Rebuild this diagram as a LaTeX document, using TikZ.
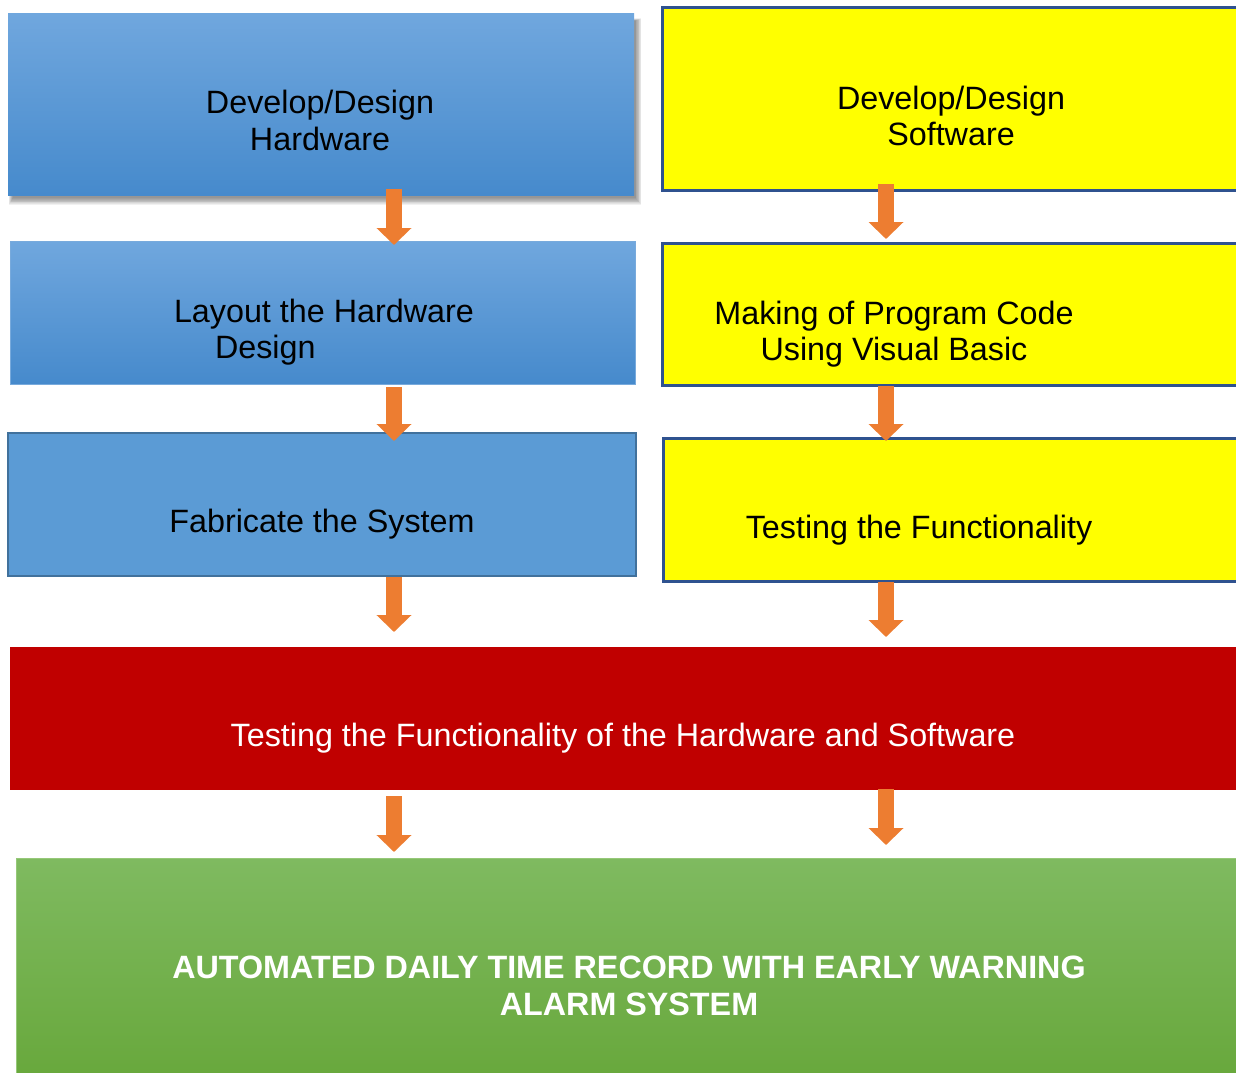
\documentclass[tikz,border=0pt]{standalone}
\usepackage{fontspec}
\setmainfont{Liberation Sans}
\usetikzlibrary{arrows.meta}
\definecolor{bluetop}{RGB}{112,167,222}
\definecolor{bluebot}{RGB}{70,138,204}
\definecolor{bluesolid}{RGB}{91,155,213}
\definecolor{blueedge}{RGB}{65,113,156}
\definecolor{bluelight}{RGB}{120,170,220}
\definecolor{yel}{RGB}{255,255,0}
\definecolor{yeledge}{RGB}{47,82,143}
\definecolor{redfill}{RGB}{192,0,0}
\definecolor{greentop}{RGB}{127,186,96}
\definecolor{greenbot}{RGB}{104,168,60}
\definecolor{greenedge}{RGB}{150,200,120}
\definecolor{arrowc}{RGB}{237,125,49}
\begin{document}
\begin{tikzpicture}[x=1pt,y=-1pt,
  every node/.style={inner sep=0pt, outer sep=0pt},
  box/.style={anchor=north west, rectangle},
  bluegrad/.style={box, top color=bluetop, bottom color=bluebot},
  bluesol/.style={box, fill=bluesolid, draw=blueedge, line width=1.5pt},
  yelbox/.style={box, fill=yel, draw=yeledge, line width=3pt},
  redbox/.style={box, fill=redfill},
  greenbox/.style={box, top color=greentop, bottom color=greenbot, draw=greenedge, line width=1pt},
  txt/.style={font=\fontsize{32.3}{36.5}\selectfont, align=center, text=black},
  wtxt/.style={txt, text=white},
  bigarrow/.style={arrowc, line width=16.5pt, -{Triangle[width=34pt,length=17pt]}}
]
\useasboundingbox (0,0) rectangle (1236,1072);
\clip (0,0) rectangle (1236,1072);
\fill[white] (0,0) rectangle (1236,1072);
% soft shadow for first box
\foreach \k in {1,...,9}{
  \fill[black, opacity=0.055] (8+5-\k*0.5, 13+8-\k*0.3) rectangle (634+1+\k*0.7, 195+2+\k*0.9);
}
\node[bluegrad, minimum width=626pt, minimum height=182pt] (h1) at (8,13) {};
\node[bluegrad, draw=bluelight, line width=1pt, minimum width=625pt, minimum height=143pt] (h2) at (10,241) {};
\node[bluesol, minimum width=628pt, minimum height=143pt] (h3) at (8,433) {};
\node[yelbox, minimum width=575pt, minimum height=183pt] (s1) at (662,7) {};
\node[yelbox, minimum width=575pt, minimum height=142pt] (s2) at (662,243) {};
\node[yelbox, minimum width=574pt, minimum height=143pt] (s3) at (663,438) {};
\node[redbox, minimum width=1232pt, minimum height=143pt] (r) at (10,647) {};
\node[greenbox, minimum width=1230pt, minimum height=220pt] (g) at (16,858) {};

\node[txt] (th1) at (320,120.5) {Develop/Design\\Hardware};
\node[txt, align=left, anchor=west] (th2) at (174,332) {Layout the Hardware\\\hspace*{41pt}Design};
\node[txt] (th3) at (322,524) {Fabricate the System};
\node[txt] (ts1) at (951,116) {Develop/Design\\Software};
\node[txt] (ts2) at (894,334) {Making of Program Code\\Using Visual Basic};
\node[txt] (ts3) at (919,530) {Testing the Functionality};
\node[wtxt] (tr) at (623,738) {Testing the Functionality of the Hardware and Software};
\node[wtxt, font=\fontsize{32.3}{37}\selectfont\bfseries] (tg) at (629,985.5) {AUTOMATED DAILY TIME RECORD WITH EARLY WARNING\\ALARM SYSTEM};

\coordinate (cL) at (394,0);
\coordinate (cR) at (886,0);
\draw[bigarrow] ([yshift=6pt]h1.south -| cL) -- ([yshift=-4pt]h2.north -| cL);
\draw[bigarrow] ([yshift=6pt]s1.south -| cR) -- ([yshift=4pt]s2.north -| cR);
\draw[bigarrow] ([yshift=-3pt]h2.south -| cL) -- ([yshift=-8pt]h3.north -| cL);
\draw[bigarrow] ([yshift=-1pt]s2.south -| cR) -- ([yshift=-3pt]s3.north -| cR);
\draw[bigarrow] ([yshift=-1pt]h3.south -| cL) -- ([yshift=15pt]r.north -| cL);
\draw[bigarrow] ([yshift=-1pt]s3.south -| cR) -- ([yshift=10pt]r.north -| cR);
\draw[bigarrow] ([yshift=-6pt]r.south -| cL) -- ([yshift=6pt]g.north -| cL);
\draw[bigarrow] ([yshift=1pt]r.south -| cR) -- ([yshift=13pt]g.north -| cR);
\end{tikzpicture}
\end{document}
